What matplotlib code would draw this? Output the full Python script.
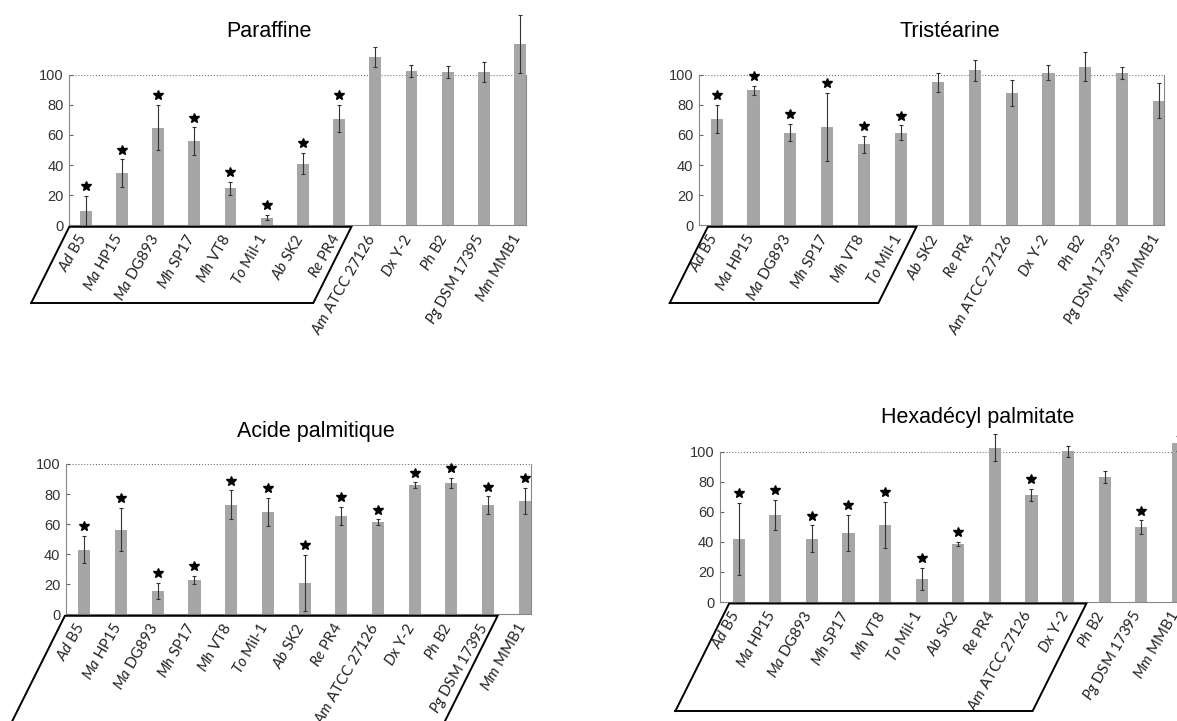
import matplotlib
matplotlib.use('Agg')
import matplotlib.pyplot as plt
from matplotlib.lines import Line2D
from matplotlib.transforms import ScaledTranslation

plt.rcParams['font.family'] = 'Liberation Sans'
plt.rcParams['mathtext.fontset'] = 'custom'
plt.rcParams['mathtext.it'] = 'Lato:italic'
plt.rcParams['mathtext.rm'] = 'Lato'

# strains (genus abbreviation in italics, strain name upright)
genus = ['Ad', 'Ma', 'Ma', 'Mh', 'Mh', 'To', 'Ab', 'Re', 'Am', 'Dx', 'Ph', 'Pg', 'Mm']
strain = ['B5', 'HP15', 'DG893', 'SP17', 'VT8', 'Mil-1', 'SK2', 'PR4',
          'ATCC 27126', 'Y-2', 'B2', 'DSM 17395', 'MMB1']

# Paraffine
paraffine = [9.7, 34.7, 64.8, 56, 24.5, 5, 41, 70.8, 111.7, 102.2, 101.8, 101.8, 120.4]
paraffine_err = [10, 9, 15, 9, 4.5, 1.7, 7, 9, 6.5, 4, 4, 6.7, 19.5]
paraffine_star = [1, 1, 1, 1, 1, 1, 1, 1, 0, 0, 0, 0, 0]

# Tristearine
tristearine = [70.8, 89.8, 61.5, 65.5, 53.7, 61.5, 95, 103, 88, 101.3, 105.3, 100.9, 82.7]
tristearine_err = [9.4, 3, 5.8, 22.5, 5.5, 4.8, 6.3, 7, 8.7, 5, 9.7, 4, 11.6]
tristearine_star = [1, 1, 1, 1, 1, 1, 0, 0, 0, 0, 0, 0, 0]

# Acide palmitique
palmitique = [43, 56.3, 15.7, 22.8, 73, 68, 20.7, 65.6, 61.2, 86, 87.6, 72.7, 75.4]
palmitique_err = [9, 14.4, 5.4, 2.7, 9.5, 9.3, 18.8, 5.9, 2, 1.7, 3.3, 5.7, 8.8]
palmitique_star = [1] * 13

# Hexadecyl palmitate
hexadecyl = [42.1, 58.1, 42.1, 46, 51, 15.5, 38.6, 102.7, 71.4, 100.2, 83.1, 49.9, 105.5]
hexadecyl_err = [24, 10, 8.8, 12, 15.4, 7.3, 1.6, 9.2, 4.1, 3.8, 4.2, 4.4, 5]
hexadecyl_star = [1, 1, 1, 1, 1, 1, 1, 0, 1, 0, 0, 1, 0]

W, H = 1177, 721
fig = plt.figure(figsize=(W / 100, H / 100), dpi=100)

# title, values, errors, stars, axes box in px (left, right, top, bottom), xlim,
# title position px, bracket (x start, x end, bottom px)
panels = [
    ('Paraffine', paraffine, paraffine_err, paraffine_star,
     (69.3, 526, 74.7, 225.3), (-0.453, 12.163), (268.8, 31.7), (-0.453, 7.34, 303)),
    ('Tristéarine', tristearine, tristearine_err, tristearine_star,
     (699, 1164.3, 74.7, 225.3), (-0.48, 12.143), (950, 31.7), (-0.24, 5.42, 303)),
    ('Acide palmitique', palmitique, palmitique_err, palmitique_star,
     (66, 531, 464, 614.3), (-0.5, 12.17), (315.7, 431.7), (-0.53, 11.26, 740)),
    ('Hexadécyl palmitate', hexadecyl, hexadecyl_err, hexadecyl_star,
     (720, 1184.1, 451.7, 602), (-0.51, 12.17), (977.7, 418), (-0.26, 9.5, 711)),
]

labels = [r'$\it{%s}$ %s' % (g, s) for g, s in zip(genus, strain)]
x = list(range(len(labels)))
inv = fig.transFigure.inverted()

for title, vals, errs, stars, box, xl, tpos, br in panels:
    l, r, t, b = box
    ax = fig.add_axes([l / W, 1 - b / H, (r - l) / W, (b - t) / H])
    ax.set_xlim(*xl)
    ax.set_ylim(0, 100)
    ax.bar(x, vals, width=0.33, color='#a6a6a6', clip_on=False, zorder=2)
    ax.errorbar(x, vals, yerr=errs, fmt='none', ecolor='#333333', elinewidth=0.8,
                capsize=1.2, capthick=0.8, clip_on=False, zorder=3)
    for i in x:
        if stars[i]:
            ax.plot(i, vals[i] + errs[i] + 6.5, marker='*', ms=7, color='black',
                    clip_on=False, zorder=4)
    ax.axhline(100, color='#777777', lw=0.8, ls=':', zorder=1)
    ax.spines['top'].set_visible(False)
    for s in ['left', 'right', 'bottom']:
        ax.spines[s].set_color('#888888')
        ax.spines[s].set_linewidth(0.8)
    ax.set_yticks([0, 20, 40, 60, 80, 100])
    ax.tick_params(axis='y', direction='in', length=3, width=0.8, color='#666666',
                   labelsize=10.5, labelcolor='#333333', pad=4)
    ax.set_xticks([])

    # rotated strain labels under each bar
    shift = ax.transData + ScaledTranslation(-3 / 100, -10 / 100, fig.dpi_scale_trans)
    for i, lab in zip(x, labels):
        ax.text(i, 0, lab, transform=shift, rotation=60, ha='right', va='center',
                rotation_mode='anchor', fontsize=10.8, family='Lato',
                color='#222222', clip_on=False)

    fig.text(tpos[0] / W, 1 - tpos[1] / H, title, ha='center', va='center',
             fontsize=15.5, color='black')

    # parallelogram bracket round a group of labels
    x0 = ax.transData.transform((br[0], 0))[0]
    x1 = ax.transData.transform((br[1], 0))[0]
    ytop = H - b - 1.5
    ybot = H - br[2]
    dx = 0.5 * (ytop - ybot)
    px = [x0 - dx, x0, x1, x1 - dx]
    py = [ybot, ytop, ytop, ybot]
    if br[2] < H:
        px.append(px[0])
        py.append(py[0])
    pts = inv.transform(list(zip(px, py)))
    fig.add_artist(Line2D(pts[:, 0], pts[:, 1], color='black', lw=1.4,
                          solid_joinstyle='miter'))

fig.savefig('out.png', dpi=100)
